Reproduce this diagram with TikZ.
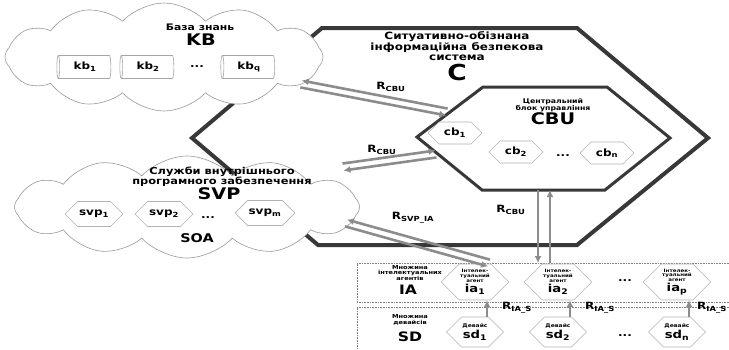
\documentclass[tikz,border=0pt]{standalone}
\usepackage{fontspec}
\setmainfont{DejaVu Sans}[FakeStretch=1.2]
\usetikzlibrary{shapes.symbols,shapes.geometric,calc,arrows.meta}

\definecolor{relgray}{gray}{0.55}
\definecolor{edgegray}{gray}{0.22}

\newcommand{\fs}[1]{\fontsize{#1}{#1}\selectfont}
\newcommand{\sbs}[1]{\textsubscript{#1}}
% pair of opposite relation arrows between two points
\newcommand{\relpair}[3][3.5pt]{%
  \draw[relline,<-] ($(#2)!#1!90:(#3)$) -- ($(#3)!#1!-90:(#2)$);
  \draw[relline,->] ($(#2)!#1!-90:(#3)$) -- ($(#3)!#1!90:(#2)$);}

\tikzset{
  syshex/.style={draw=edgegray,line width=4pt,line join=miter},
  cbuhex/.style={draw=edgegray,line width=3pt,line join=miter,fill=white},
  cloudy/.style={cloud,cloud puffs=12,cloud puff arc=95,draw=gray!80,fill=white,line width=.6pt},
  hexa/.style={signal,signal to=west and east,draw=gray!60,fill=white,line width=.6pt,
    inner sep=1pt,minimum width=54pt,minimum height=22pt,font=\bfseries\fs{10}},
  dbase/.style={cylinder,shape border rotate=180,aspect=.25,draw=gray!70,line width=.6pt,
    minimum width=23pt,minimum height=54pt,inner sep=1pt,font=\bfseries\fs{10}},
  relline/.style={draw=relgray,line width=2.6pt,>={Latex[length=7pt,width=7pt]}},
  rlab/.style={font=\bfseries\fs{10}},
  setbox/.style={draw=gray,densely dotted,line width=.6pt}
}

\begin{document}
\begin{tikzpicture}[x=1pt,y=-1pt]
\useasboundingbox (0,0) rectangle (729,349);

% system C
\draw[syshex] (192,138) -- (322,28) -- (577,28) -- (708,138) -- (577,245) -- (318,245) -- cycle;
\node[align=center,font=\bfseries\fs{10}] (ctitle) at (457,46) {Ситуативно-обізнана\\інформаційна безпекова\\система};
\node[font=\bfseries\fs{22}] (csym) at (457,72) {C};

% knowledge base
\node[cloudy,minimum width=318pt,minimum height=108pt] (kbcl) at (164,57) {};
\node[font=\bfseries\fs{9}] (kbt) at (200,27) {База знань};
\node[font=\bfseries\fs{16}] (kb) at (201,40) {KB};
\node[dbase] (kb1) at (85,67) {kb\sbs{1}};
\node[dbase] (kb2) at (148,67) {kb\sbs{2}};
\node[font=\bfseries\fs{10}] (kbdots) at (197,67) {...};
\node[dbase] (kbq) at (249,67) {kb\sbs{q}};

% internal software services
\node[cloudy,minimum width=345pt,minimum height=102pt] (svpcl) at (187,207) {};
\node[align=center,font=\bfseries\fs{9.5}] (svpt) at (222,177) {Служби внутрішнього\\[-1pt]програмного забезпечення};
\node[font=\bfseries\fs{16}] (svp) at (219,194) {SVP};
\node[hexa,minimum width=58pt,minimum height=25pt] (svp1) at (94,214) {svp\sbs{1}};
\node[hexa,minimum width=58pt,minimum height=25pt] (svp2) at (164,214) {svp\sbs{2}};
\node[font=\bfseries\fs{10}] (svpdots) at (208,218) {...};
\node[hexa,minimum width=58pt,minimum height=25pt] (svpm) at (265,213) {svp\sbs{m}};
\node[font=\bfseries\fs{12}] (soa) at (197,238) {SOA};

% central unit
\draw[cbuhex] (417,137) -- (483,87) -- (607,87) -- (670,138) -- (605,190) -- (482,190) -- cycle;
\node[align=center,font=\bfseries\fs{6.5}] (cbut) at (553,105) {Центральний\\[-1pt]блок управління};
\node[font=\bfseries\fs{16}] (cbu) at (553,119) {CBU};
\node[hexa] (cb1) at (455,133) {cb\sbs{1}};
\node[hexa] (cb2) at (516,152) {cb\sbs{2}};
\node[font=\bfseries\fs{10}] (cbdots) at (563,156) {...};
\node[hexa] (cbn) at (607,153) {cb\sbs{n}};

% agents
\draw[setbox] (729,263) -- (357,263) -- (357,302) -- (729,302);
\node[align=center,font=\bfseries\fs{5.5}] (iat) at (410,273) {Множина\\інтелектуальних\\агентів};
\node[font=\bfseries\fs{13}] (ia) at (408,290) {IA};
\foreach \nm/\xx/\sb in {ia1/475/1,ia2/558/2,iap/677/p}
  \node[hexa,minimum width=52pt,minimum height=36pt,align=center,font=\bfseries\fs{4.6}] (\nm) at (\xx,282)
    {Інтелек-\\туальний\\агент\\[1pt]\fs{11}ia\sbs{\sb}};
\node[font=\bfseries\fs{10}] (iadots) at (625,281) {...};

% devices
\draw[setbox] (729,307) -- (357,307) -- (357,349);
\node[align=center,font=\bfseries\fs{5.5}] (sdt) at (410,320) {Множина\\девайсів};
\node[font=\bfseries\fs{13}] (sd) at (410,337) {SD};
\foreach \nm/\xx/\sb in {sd1/475/1,sd2/558/2,sdn/677/n}
  \node[hexa,minimum width=52pt,minimum height=30pt,align=center,font=\bfseries\fs{5}] (\nm) at (\xx,332)
    {Девайс\\[1pt]\fs{11}sd\sbs{\sb}};
\node[font=\bfseries\fs{10}] (sddots) at (625,336) {...};

% relations
\coordinate (kbR) at (301,84);
\coordinate (cbuNW) at (447,112);
\coordinate (svpR) at (343,167);
\coordinate (cbuW) at (436,154);
\coordinate (svpSE) at (346,223);
\coordinate (ia1T) at (489,263);
\coordinate (cbuS) at (544,190);
\coordinate (iaT) at (544,263);
\relpair{kbR}{cbuNW}
\draw[relline,->] ($(svpR)!3.5pt!90:(cbuW)$) -- ($(cbuW)!3.5pt!-90:(svpR)$);
\draw[relline,<-] ($(svpR)!3.5pt!-90:(cbuW)$) -- ($(cbuW)!3.5pt!90:(svpR)$);
\relpair{svpSE}{ia1T}
\relpair[6pt]{cbuS}{iaT}
\node[rlab] (rkb) at (391,87) {R\sbs{CBU}};
\node[rlab] (rsvp) at (382,150) {R\sbs{CBU}};
\node[rlab] (rsvpia) at (413,218) {R\sbs{SVP\_IA}};
\node[rlab] (ria) at (511,210) {R\sbs{CBU}};
\foreach \a/\b in {sd1/ia1,sd2/ia2,sdn/iap}
  \draw[relline,->] ([xshift=12pt]\a.north) -- ([xshift=12pt]\b.south);
\node[rlab] at (517,308) {R\sbs{IA\_S}};
\node[rlab] at (600,308) {R\sbs{IA\_S}};
\node[rlab] at (712,308) {R\sbs{IA\_S}};
\end{tikzpicture}
\end{document}
